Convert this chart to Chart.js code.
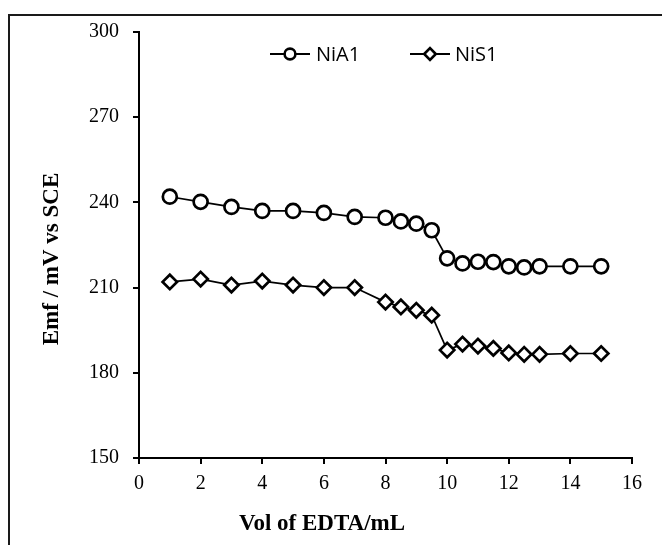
<!DOCTYPE html>
<html>
<head>
<meta charset="utf-8">
<script src="https://cdn.jsdelivr.net/npm/chart.js@4/dist/chart.umd.min.js"></script>
<style>
  html, body { margin: 0; padding: 0; background: #fff; }
  #wrap { width: 662px; height: 545px; position: relative; }
</style>
</head>
<body>
<div id="wrap"><canvas id="c" width="662" height="545"></canvas></div>
<script>
// ---- data ----
const volEDTA = [1, 2, 3, 4, 5, 6, 7, 8, 8.5, 9, 9.5, 10, 10.5, 11, 11.5, 12, 12.5, 13, 14, 15];
const emfNiA1 = [242.0, 240.2, 238.4, 237.0, 237.0, 236.3, 234.9, 234.6, 233.3, 232.5, 230.2, 220.3, 218.5, 219.1, 219.0, 217.5, 217.1, 217.5, 217.5, 217.5];
const emfNiS1 = [212.0, 213.0, 210.9, 212.3, 210.9, 210.0, 210.0, 204.9, 203.2, 202.0, 200.3, 188.0, 190.1, 189.4, 188.6, 187.0, 186.5, 186.5, 186.8, 186.8];
const seriesNames = ['NiA1', 'NiS1'];
const xTicks = [0, 2, 4, 6, 8, 10, 12, 14, 16];
const yTicks = [150, 180, 210, 240, 270, 300];
const xTitle = 'Vol of EDTA/mL';
const yTitle = 'Emf / mV vs SCE';

const toPts = (xs, ys) => xs.map((x, i) => ({ x: x, y: ys[i] }));

const serif = "'Liberation Serif', 'Times New Roman', serif";

const borderPlugin = {
  id: 'outerBorder',
  beforeDraw(chart) {
    const ctx = chart.ctx;
    ctx.save();
    ctx.strokeStyle = '#1a1a1a';
    ctx.lineWidth = 2;
    ctx.beginPath();
    ctx.moveTo(9, 545);
    ctx.lineTo(9, 15);
    ctx.lineTo(662, 15);
    ctx.stroke();
    ctx.restore();
  }
};

const titlesPlugin = {
  id: 'axisTitles',
  afterDraw(chart) {
    const ctx = chart.ctx;
    ctx.save();
    ctx.fillStyle = '#000';
    ctx.font = "bold 23px " + serif;
    ctx.textAlign = 'center';
    ctx.textBaseline = 'middle';
    ctx.fillText(xTitle, 322, 524);
    ctx.translate(52, 259);
    ctx.rotate(-Math.PI / 2);
    ctx.fillText(yTitle, 0, 0);
    ctx.restore();
  }
};

const legendPlugin = {
  id: 'lineLegend',
  afterDraw(chart) {
    const ctx = chart.ctx;
    const items = [
      { x0: 270, x1: 310, tx: 316, style: 'circle', r: 5.4 },
      { x0: 410, x1: 450, tx: 455, style: 'rectRot', r: 5.8 }
    ];
    const y = 54;
    ctx.save();
    items.forEach((it, i) => {
      const ds = chart.data.datasets[i];
      const cx = (it.x0 + it.x1) / 2;
      ctx.strokeStyle = '#000';
      ctx.lineWidth = 2;
      ctx.beginPath();
      ctx.moveTo(it.x0, y);
      ctx.lineTo(it.x1, y);
      ctx.stroke();
      ctx.fillStyle = '#fff';
      ctx.lineWidth = 2.6;
      ctx.beginPath();
      if (it.style === 'circle') {
        ctx.arc(cx, y, it.r, 0, Math.PI * 2);
      } else {
        ctx.moveTo(cx - it.r, y); ctx.lineTo(cx, y - it.r);
        ctx.lineTo(cx + it.r, y); ctx.lineTo(cx, y + it.r); ctx.closePath();
      }
      ctx.fill();
      ctx.stroke();
      ctx.fillStyle = '#000';
      ctx.font = "20px 'Open Sans', 'Noto Sans', sans-serif";
      ctx.textBaseline = 'middle';
      ctx.textAlign = 'left';
      ctx.fillText(ds.label, it.tx, y + 1);
    });
    ctx.restore();
  }
};

new Chart(document.getElementById('c'), {
  type: 'scatter',
  data: {
    datasets: [
      {
        label: seriesNames[0],
        data: toPts(volEDTA, emfNiA1),
        showLine: true,
        borderColor: '#000',
        borderWidth: 1.7,
        pointStyle: 'circle',
        pointRadius: 7,
        pointBorderWidth: 2.7,
        pointBackgroundColor: '#fff',
        pointBorderColor: '#000'
      },
      {
        label: seriesNames[1],
        data: toPts(volEDTA, emfNiS1),
        showLine: true,
        borderColor: '#000',
        borderWidth: 1.7,
        pointStyle: 'rectRot',
        pointRadius: 7.2,
        pointBorderWidth: 2.7,
        pointBackgroundColor: '#fff',
        pointBorderColor: '#000'
      }
    ]
  },
  options: {
    responsive: false,
    animation: false,
    devicePixelRatio: 1,
    layout: { padding: { left: 0, top: 32, right: 30, bottom: 0 } },
    plugins: {
      legend: { display: false },
      tooltip: { enabled: false }
    },
    scales: {
      x: {
        type: 'linear',
        min: 0, max: 16,
        afterFit(s) { s.height = 87; },
        afterBuildTicks(s) { s.ticks = xTicks.map(v => ({ value: v })); },
        grid: { drawOnChartArea: false, drawTicks: true, tickLength: 6, color: '#000', lineWidth: 2 },
        border: { display: true, color: '#000', width: 2 },
        ticks: { color: '#000', padding: 8, font: { family: serif, size: 20 } },
        title: { display: false }
      },
      y: {
        type: 'linear',
        min: 150, max: 300,
        afterFit(s) { s.width = 139; },
        afterBuildTicks(s) { s.ticks = yTicks.map(v => ({ value: v })); },
        grid: { drawOnChartArea: false, drawTicks: true, tickLength: 6, color: '#000', lineWidth: 2 },
        border: { display: true, color: '#000', width: 2 },
        ticks: { color: '#000', padding: 14, font: { family: serif, size: 20 } },
        title: { display: false }
      }
    }
  },
  plugins: [borderPlugin, titlesPlugin, legendPlugin]
});
</script>
</body>
</html>
